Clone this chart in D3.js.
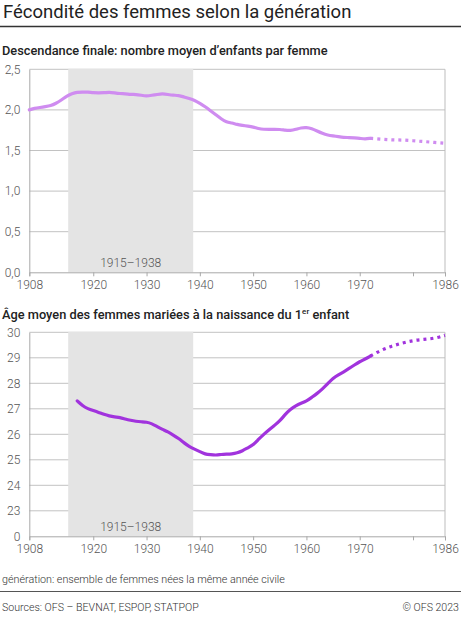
<!DOCTYPE html>
<html><head><meta charset="utf-8">
<script src="https://cdn.jsdelivr.net/npm/d3@7"></script>
<style>
html,body{margin:0;padding:0;background:#fff;}
svg{display:block;font-family:Roboto,"Noto Sans",sans-serif;}
</style></head><body>
<svg id="c" width="461" height="623"></svg>
<script>
// ---- data ----
const fertYears = [1908,1909,1910,1911,1912,1913,1914,1915,1916,1917,1918,1919,1920,1921,1922,1923,1924,1925,1926,1927,1928,1929,1930,1931,1932,1933,1934,1935,1936,1937,1938,1939,1940,1941,1942,1943,1944,1945,1946,1947,1948,1949,1950,1951,1952,1953,1954,1955,1956,1957,1958,1959,1960,1961,1962,1963,1964,1965,1966,1967,1968,1969,1970,1971,1972];
const fertValues = [2.00,2.02,2.03,2.04,2.05,2.08,2.12,2.17,2.20,2.22,2.22,2.22,2.21,2.21,2.21,2.22,2.21,2.20,2.20,2.19,2.19,2.18,2.17,2.18,2.19,2.20,2.19,2.18,2.18,2.16,2.14,2.12,2.08,2.04,1.99,1.94,1.89,1.85,1.84,1.82,1.81,1.80,1.79,1.77,1.76,1.76,1.76,1.76,1.75,1.745,1.76,1.78,1.785,1.77,1.74,1.71,1.69,1.68,1.67,1.66,1.66,1.655,1.65,1.64,1.65];
const fertProjYears = [1972,1974,1976,1978,1980,1982,1984,1986];
const fertProjValues = [1.65,1.64,1.63,1.63,1.62,1.61,1.60,1.59];

const ageYears = [1917,1918,1919,1920,1921,1922,1923,1924,1925,1926,1927,1928,1929,1930,1931,1932,1933,1934,1935,1936,1937,1938,1939,1940,1941,1942,1943,1944,1945,1946,1947,1948,1949,1950,1951,1952,1953,1954,1955,1956,1957,1958,1959,1960,1961,1962,1963,1964,1965,1966,1967,1968,1969,1970,1971,1972];
const ageValues = [27.31,27.12,27.00,26.93,26.86,26.78,26.72,26.68,26.66,26.60,26.55,26.51,26.49,26.48,26.42,26.30,26.19,26.10,25.97,25.84,25.67,25.52,25.42,25.32,25.22,25.20,25.18,25.21,25.22,25.23,25.27,25.35,25.47,25.58,25.80,26.00,26.18,26.35,26.52,26.78,26.98,27.12,27.22,27.30,27.45,27.60,27.78,27.98,28.20,28.33,28.45,28.58,28.72,28.85,28.95,29.07];
const ageProjYears = [1972,1974,1976,1978,1980,1982,1984,1986];
const ageProjValues = [29.07,29.30,29.46,29.58,29.68,29.72,29.76,29.88];

const xTickYears = [1908,1920,1930,1940,1950,1960,1970,1980,1986];
const xTickLabels = ["1908","1920","1930","1940","1950","1960","1970","","1986"];
const fertTicks = [0,0.5,1,1.5,2,2.5];
const fertTickLabels = ["0,0","0,5","1,0","1,5","2,0","2,5"];
const ageTicks = [22,23,24,25,26,27,28,29,30];
const ageTickLabels = ["0","23","24","25","26","27","28","29","30"];
const bandRange = [1915.3, 1938.75];
const bandLabel = "1915–1938";

const title = "Fécondité des femmes selon la génération";
const sub1 = "Descendance finale: nombre moyen d’enfants par femme";
const note = "génération: ensemble de femmes nées la même année civile";
const sources = "Sources: OFS – BEVNAT, ESPOP, STATPOP";
const copyright = "© OFS 2023";

// ---- drawing ----
const svg = d3.select("#c");
const X0 = 29.3, X1 = 445;
const x = d3.scaleLinear().domain([1908,1986]).range([X0,X1]);

svg.append("text").attr("x",3).attr("y",17.5).attr("font-size",18.5).attr("fill","#222").text(title);
svg.append("line").attr("x1",0).attr("x2",461).attr("y1",26.5).attr("y2",26.5).attr("stroke","#333").attr("stroke-width",1.3);

function panel(cfg){
  const y = d3.scaleLinear().domain(cfg.domain).range([cfg.bottom, cfg.top]);
  const g = svg.append("g");
  g.selectAll("line.grid").data(cfg.ticks.slice(1)).join("line")
    .attr("x1",X0).attr("x2",X1).attr("y1",d=>y(d)).attr("y2",d=>y(d))
    .attr("stroke","#c2c2c2").attr("stroke-width",1);
  g.append("rect").attr("x",x(bandRange[0])).attr("width",x(bandRange[1])-x(bandRange[0]))
    .attr("y",cfg.top-0.5).attr("height",cfg.bottom-cfg.top+0.5).attr("fill","#e4e4e4");
  g.append("text").attr("x",(x(bandRange[0])+x(bandRange[1]))/2).attr("y",cfg.bottom-5.5)
    .attr("text-anchor","middle").attr("font-size",12).attr("font-weight",300).attr("fill","#555").text(bandLabel);
  g.append("line").attr("x1",X1).attr("x2",X1).attr("y1",cfg.top).attr("y2",cfg.bottom)
    .attr("stroke","#bdbdbd");
  const xa = d3.axisBottom(x).tickValues(xTickYears).tickSize(4).tickPadding(4)
    .tickFormat((d,i)=>xTickLabels[i]);
  const gx = g.append("g").attr("transform",`translate(0,${cfg.bottom})`).call(xa);
  gx.select(".domain").attr("stroke","#a8a8a8");
  gx.selectAll(".tick line").attr("stroke","#a8a8a8");
  gx.selectAll("text").attr("font-size",12).attr("font-weight",300).attr("fill","#555").attr("font-family","Roboto");
  const ya = d3.axisLeft(y).tickValues(cfg.ticks).tickSize(0).tickPadding(9)
    .tickFormat((d,i)=>cfg.tickLabels[i]);
  const gy = g.append("g").attr("transform",`translate(${X0},0)`).call(ya);
  gy.select(".domain").attr("stroke","#a8a8a8");
  gy.selectAll("text").attr("font-size",12).attr("font-weight",300).attr("fill","#555").attr("font-family","Roboto");
  const line = d3.line().x(d=>x(d[0])).y(d=>y(d[1])).curve(d3.curveBasis);
  g.append("path").datum(d3.zip(cfg.years,cfg.values)).attr("d",line)
    .attr("fill","none").attr("stroke",cfg.color).attr("stroke-width",3.2).attr("stroke-linejoin","round").attr("stroke-linecap","round");
  g.append("path").datum(d3.zip(cfg.projYears,cfg.projValues)).attr("d",line)
    .attr("fill","none").attr("stroke",cfg.color).attr("stroke-width",3.2).attr("stroke-dasharray","3,4");
}

svg.append("text").attr("x",2).attr("y",55).attr("font-size",12.8).attr("font-weight",500).attr("fill","#222").text(sub1);
panel({domain:[0,2.5],top:69.3,bottom:272.3,ticks:fertTicks,tickLabels:fertTickLabels,
  years:fertYears,values:fertValues,projYears:fertProjYears,projValues:fertProjValues,color:"#cf8cf0"});

const s2 = svg.append("text").attr("x",2).attr("y",318.5).attr("font-size",12.8).attr("font-weight",500).attr("fill","#222");
s2.append("tspan").text("Âge moyen des femmes mariées à la naissance du 1");
s2.append("tspan").attr("font-size",8).attr("dy",-4.5).text("er");
s2.append("tspan").attr("dy",4.5).text(" enfant");
panel({domain:[22,30],top:332.3,bottom:536.3,ticks:ageTicks,tickLabels:ageTickLabels,
  years:ageYears,values:ageValues,projYears:ageProjYears,projValues:ageProjValues,color:"#a133dd"});

svg.append("text").attr("x",2).attr("y",582.5).attr("font-size",10.75).attr("font-weight",300).attr("fill","#333").text(note);
svg.append("line").attr("x1",0).attr("x2",461).attr("y1",591.5).attr("y2",591.5).attr("stroke","#555").attr("stroke-width",1);
svg.append("text").attr("x",2).attr("y",611).attr("font-size",10.6).attr("font-weight",300).attr("fill","#333").text(sources);
svg.append("text").attr("x",459).attr("y",611).attr("text-anchor","end").attr("font-size",10.6).attr("font-weight",300).attr("fill","#333").text(copyright);
</script>
</body></html>
